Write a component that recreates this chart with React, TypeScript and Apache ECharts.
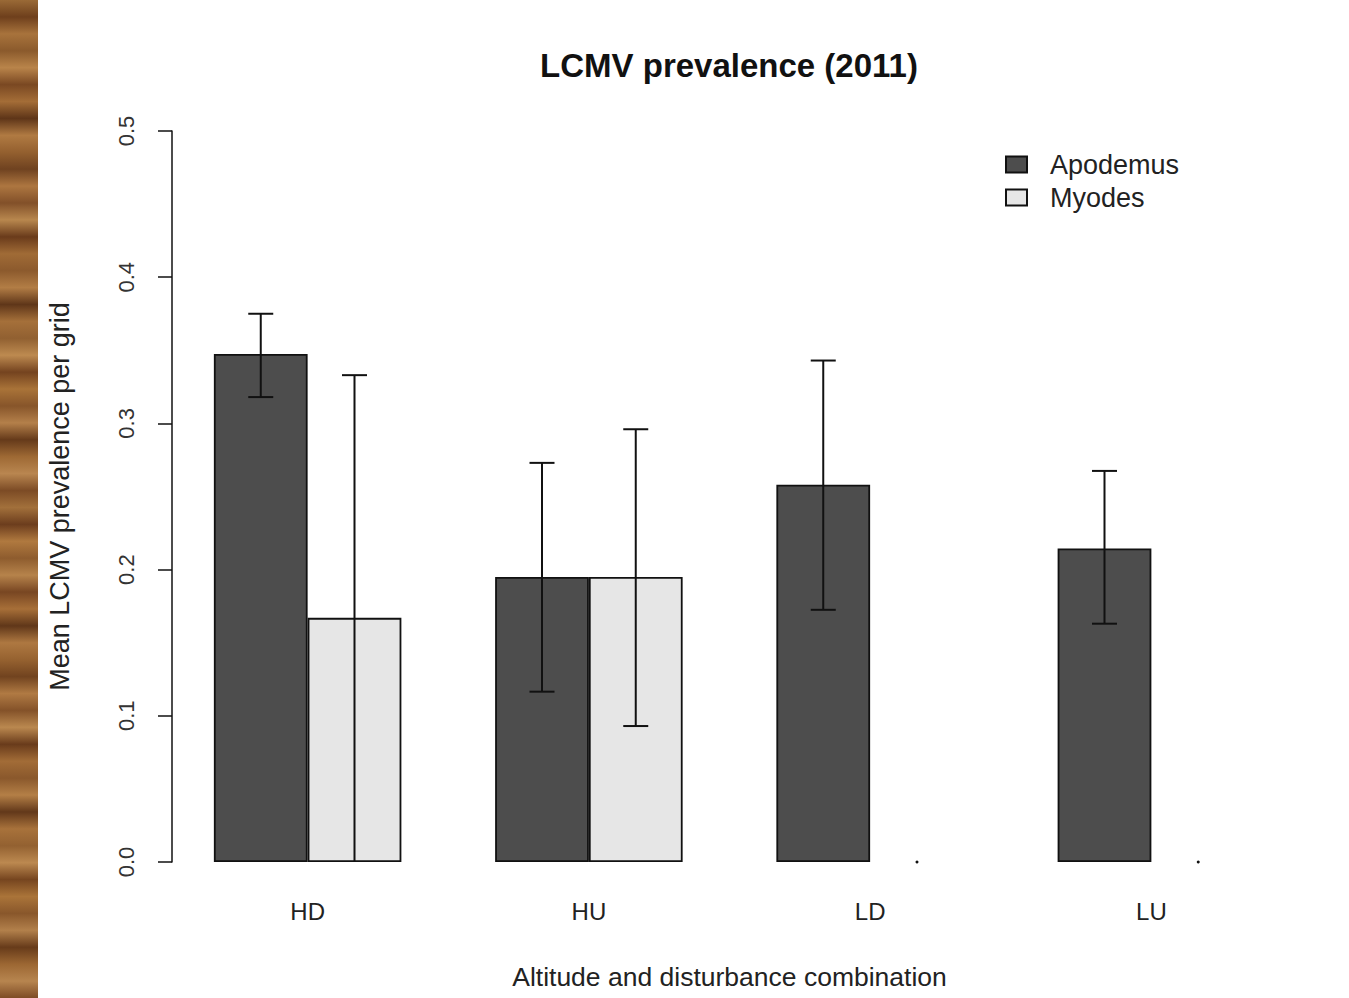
import React, { useEffect, useRef } from "react";
import * as echarts from "echarts";

const categories = ["HD", "HU", "LD", "LU"];
const seriesNames = ["Apodemus", "Myodes"];
const apodemusMean = [0.3475, 0.195, 0.258, 0.2145];
const apodemusLow = [0.318, 0.1165, 0.1725, 0.163];
const apodemusHigh = [0.375, 0.273, 0.343, 0.2675];
const myodesMean = [0.167, 0.195, 0, 0];
const myodesLow = [0, 0.093, 0, 0];
const myodesHigh = [0.333, 0.296, 0, 0];
const yTicks = [0, 0.1, 0.2, 0.3, 0.4, 0.5];

const woodStops = [
  "#9a6a36", "#6e3f1c", "#a8733c", "#8b5a2c", "#b9844a", "#7a4822",
  "#a46d37", "#5e3518", "#b07a42", "#94602f", "#6f4220", "#ad7640",
  "#825029", "#b8874e", "#6a3b1b", "#a06b36", "#8c5a2d", "#b27d45",
  "#5f3619", "#a5703a", "#916031", "#bd8a50", "#74431f", "#a97338",
  "#87552a", "#b4804a", "#653a1a", "#9e6934", "#b98650", "#7c4b25",
  "#a2703b", "#6c3d1d", "#b0793f", "#8e5c2e", "#b6834b", "#784622",
  "#a76f38", "#603719", "#ae7841", "#966230", "#71431f", "#b07a43",
  "#845229", "#ba884f", "#693b1b", "#a26c37", "#8a582c", "#b47f46",
  "#62381a", "#a8723b", "#936131", "#bc8950", "#76451f", "#aa7439",
  "#89572b", "#b2804b", "#673b1a", "#9c6733", "#b7854f", "#7e4c26"
];

export default function App() {
  const ref = useRef<HTMLDivElement>(null);
  useEffect(() => {
    if (!ref.current) return;
    const chart = echarts.init(ref.current, null, { renderer: "svg" });
    const errData: number[][] = [];
    categories.forEach((_, i) => {
      errData.push([i, apodemusLow[i], apodemusHigh[i], 0]);
      errData.push([i, myodesLow[i], myodesHigh[i], 1]);
    });
    const font = "'Liberation Sans', Arial, sans-serif";
    const option: any = {
      animation: false,
      backgroundColor: "#ffffff",
      title: {
        text: "LCMV prevalence (2011)",
        left: 729,
        textAlign: "center",
        top: 49,
        padding: 0,
        textStyle: { fontFamily: font, fontWeight: "bold", fontSize: 33, color: "#111" }
      },
      legend: {
        orient: "vertical",
        left: 1005,
        top: 151,
        padding: 0,
        itemWidth: 21,
        itemHeight: 16,
        itemGap: 6,
        icon: "rect",
        data: seriesNames,
        textStyle: { fontFamily: font, fontSize: 27, color: "#222", padding: [0, 0, 0, 18] }
      },
      graphic: [
        {
          type: "rect",
          shape: { x: 0, y: 0, width: 38, height: 998 },
          style: {
            fill: new echarts.graphic.LinearGradient(
              0, 0, 0, 1,
              woodStops.map((c, i) => ({ offset: i / (woodStops.length - 1), color: c }))
            )
          },
          silent: true
        }
      ],
      grid: { left: 167, right: 57, top: 131, bottom: 136 },
      xAxis: {
        type: "category",
        data: categories,
        axisLine: { show: false },
        axisTick: { show: false },
        axisLabel: { margin: 37, fontFamily: font, fontSize: 24, color: "#222" },
        name: "Altitude and disturbance combination",
        nameLocation: "middle",
        nameGap: 101,
        nameTextStyle: { fontFamily: font, fontSize: 26.5, color: "#222" }
      },
      yAxis: {
        type: "value",
        min: 0,
        max: 0.5,
        interval: 0.1,
        offset: -5,
        axisLine: { show: true, lineStyle: { color: "#111", width: 1.5 } },
        axisTick: { show: true, length: 14, lineStyle: { color: "#111", width: 1.5 } },
        splitLine: { show: false },
        axisLabel: {
          rotate: 90,
          margin: 35,
          fontFamily: font,
          fontSize: 22,
          color: "#333",
          formatter: (v: number) => yTicks.indexOf(Math.round(v * 10) / 10) >= 0 ? v.toFixed(1) : ""
        },
        name: "Mean LCMV prevalence per grid",
        nameLocation: "middle",
        nameGap: 99,
        nameTextStyle: { fontFamily: font, fontSize: 27, color: "#222" }
      },
      series: [
        {
          name: seriesNames[0],
          type: "bar",
          data: apodemusMean.map((v) => (v === 0 ? null : v)),
          barGap: "0%",
          barCategoryGap: "33.33%",
          itemStyle: { color: "#4d4d4d", borderColor: "#111", borderWidth: 1.8 }
        },
        {
          name: seriesNames[1],
          type: "bar",
          data: myodesMean.map((v) => (v === 0 ? null : v)),
          barGap: "0%",
          barCategoryGap: "33.33%",
          itemStyle: { color: "#e6e6e6", borderColor: "#111", borderWidth: 1.8 }
        },
        {
          type: "custom",
          data: errData,
          z: 10,
          silent: true,
          renderItem: (params: any, api: any) => {
            const idx = api.value(0);
            const lo = api.value(1);
            const hi = api.value(2);
            const s = api.value(3);
            const catW = api.size([1, 0])[0];
            const barW = (catW * (2 / 3)) / 2;
            const cx = api.coord([idx, 0])[0] + (s === 0 ? -barW / 2 : barW / 2);
            const yLo = api.coord([idx, lo])[1];
            const yHi = api.coord([idx, hi])[1];
            const stroke = { stroke: "#111", lineWidth: 2 };
            if (lo === hi) {
              return { type: "circle", shape: { cx, cy: yLo, r: 1.5 }, style: { fill: "#111" } };
            }
            const cap = 12.5;
            const children: any[] = [
              { type: "line", shape: { x1: cx, y1: yHi, x2: cx, y2: yLo }, style: stroke },
              { type: "line", shape: { x1: cx - cap, y1: yHi, x2: cx + cap, y2: yHi }, style: stroke }
            ];
            if (lo > 0) {
              children.push({ type: "line", shape: { x1: cx - cap, y1: yLo, x2: cx + cap, y2: yLo }, style: stroke });
            }
            return { type: "group", children };
          }
        }
      ]
    };
    chart.setOption(option);
    return () => chart.dispose();
  }, []);
  return (
    <div
      ref={ref}
      style={{ position: "fixed", left: 0, top: 0, width: 1349, height: 998, background: "#fff" }}
    />
  );
}
